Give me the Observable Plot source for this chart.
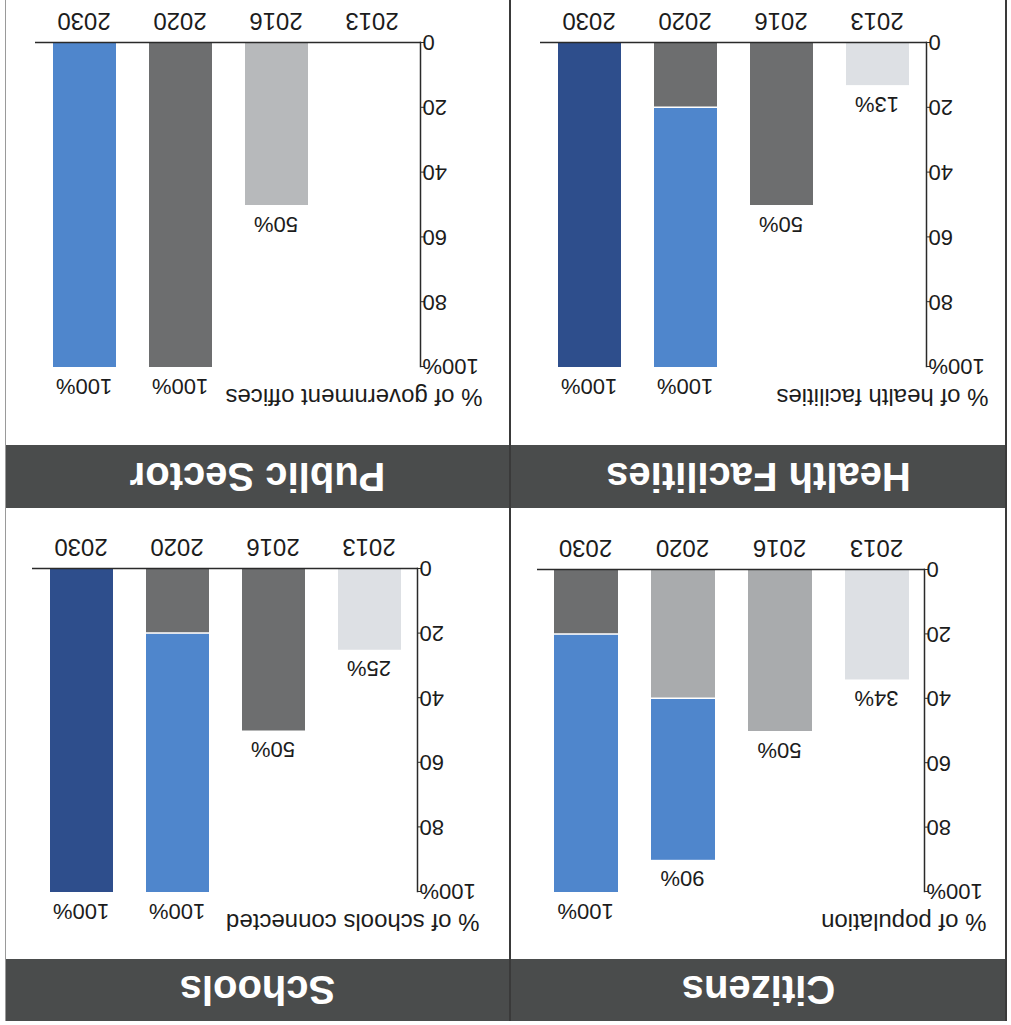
<!DOCTYPE html>
<html>
<head>
<meta charset="utf-8">
<script src="https://cdn.jsdelivr.net/npm/d3@7"></script>
<script src="https://cdn.jsdelivr.net/npm/@observablehq/plot@0.6"></script>
<style>
  html, body { margin: 0; padding: 0; background: #ffffff; }
  #root {
    position: absolute; left: 0; top: 0; width: 1011px; height: 1025px;
    background: #ffffff; transform: rotate(180deg); transform-origin: 50% 50%;
    font-family: "Liberation Sans", Arial, sans-serif; overflow: hidden;
  }
  .header {
    position: absolute; background: #4a4c4c; color: #ffffff;
    font-family: "Liberation Sans", Arial, sans-serif; font-weight: bold;
    font-size: 40px; text-align: center;
  }
  .vline { position: absolute; width: 2px; background: #3a3a3a; }
  .chart { position: absolute; }
  .chart svg { overflow: visible; }
</style>
</head>
<body>
<div id="root"></div>
<script>
// ---------- data ----------
const years = ["2013", "2016", "2020", "2030"];
const panelTitles = ["Citizens", "Schools", "Health Facilities", "Public Sector"];
const axisTitles = ["% of population", "% of schools connected", "% of health facilities", "% of government offices"];
const yTicks = [0, 20, 40, 60, 80, 100];

const toneNames = ["pale", "mid", "light", "dark", "blue", "navy"];
const toneColors = ["#dde0e4", "#a9abad", "#b7b9bb", "#6d6e6f", "#4f86cc", "#2e4e8c"];

// Citizens
const citizensLower = [34, 50, 40, 20];
const citizensLowerTone = ["pale", "mid", "mid", "dark"];
const citizensUpper = [null, null, 90, 100];
const citizensUpperTone = [null, null, "blue", "blue"];
const citizensLabels = ["34%", "50%", "90%", "100%"];

// Schools
const schoolsLower = [25, 50, 20, 100];
const schoolsLowerTone = ["pale", "dark", "dark", "navy"];
const schoolsUpper = [null, null, 100, null];
const schoolsUpperTone = [null, null, "blue", null];
const schoolsLabels = ["25%", "50%", "100%", "100%"];

// Health Facilities
const healthLower = [13, 50, 20, 100];
const healthLowerTone = ["pale", "dark", "dark", "navy"];
const healthUpper = [null, null, 100, null];
const healthUpperTone = [null, null, "blue", null];
const healthLabels = ["13%", "50%", "100%", "100%"];

// Public Sector
const publicLower = [0, 50, 100, 100];
const publicLowerTone = [null, "light", "dark", "blue"];
const publicUpper = [null, null, null, null];
const publicUpperTone = [null, null, null, null];
const publicLabels = [null, "50%", "100%", "100%"];

// ---------- layout ----------
const root = document.getElementById("root");

function addDiv(cls, css, text) {
  const d = document.createElement("div");
  d.className = cls;
  Object.assign(d.style, css);
  if (text) d.textContent = text;
  root.appendChild(d);
  return d;
}

function buildChart(lower, lowerTone, upper, upperTone, labels, axisTitle, dims) {
  const segs = [];
  const tops = [];
  years.forEach((yr, i) => {
    if (lower[i] > 0) segs.push({year: yr, y1: 0, y2: lower[i], tone: lowerTone[i]});
    if (upper[i] != null) segs.push({year: yr, y1: lower[i], y2: upper[i], tone: upperTone[i]});
    if (labels[i] != null) tops.push({year: yr, y: Math.max(lower[i] || 0, upper[i] || 0), text: labels[i]});
  });
  return Plot.plot({
    width: dims.width,
    height: dims.height,
    marginLeft: dims.ml,
    marginRight: dims.mr,
    marginTop: dims.mt,
    marginBottom: dims.mb,
    style: {fontFamily: "Liberation Sans, Arial, sans-serif", color: "#1c1c1c", background: "transparent", overflow: "visible"},
    x: {domain: years, paddingInner: 0.34, paddingOuter: 0.17, align: 0.5},
    y: {domain: [0, 100]},
    color: {domain: toneNames, range: toneColors},
    marks: [
      Plot.barY(segs, {x: "year", y1: "y1", y2: "y2", fill: "tone"}),
      Plot.tickY(segs.filter(d => d.y1 > 0), {x: "year", y: "y1", stroke: "#ffffff", strokeWidth: 1.5}),
      Plot.ruleY([0], {stroke: "#2a2a2a", strokeWidth: 1.5}),
      Plot.frame({anchor: "left", stroke: "#2a2a2a", strokeWidth: 1.5}),
      Plot.axisY({ticks: yTicks, tickSize: 3, tickPadding: -1, tickFormat: d => d === 100 ? "100%" : String(d), fontSize: 22, label: null, stroke: "#2a2a2a"}),
      Plot.axisX({tickSize: 0, tickPadding: 12, fontSize: 24, label: null}),
      Plot.text(tops, {x: "year", y: "y", text: "text", dy: -12, lineAnchor: "bottom", fontSize: 22, fill: "#1c1c1c"}),
      Plot.text([axisTitle], {frameAnchor: "top-left", text: d => d, dx: -62, dy: -22, textAnchor: "start", lineAnchor: "bottom", fontSize: 24, fill: "#1c1c1c"})
    ]
  });
}

const panels = [
  {title: panelTitles[0], axis: axisTitles[0], lower: citizensLower, lowerTone: citizensLowerTone, upper: citizensUpper, upperTone: citizensUpperTone, labels: citizensLabels,
   left: 4, width: 497, headTop: 4, headH: 62, chartTop: 66, dims: {width: 497, height: 444, ml: 82, mr: 27, mt: 67, mb: 55}},
  {title: panelTitles[1], axis: axisTitles[1], lower: schoolsLower, lowerTone: schoolsLowerTone, upper: schoolsUpper, upperTone: schoolsUpperTone, labels: schoolsLabels,
   left: 501, width: 505, headTop: 4, headH: 62, chartTop: 66, dims: {width: 505, height: 444, ml: 92, mr: 27, mt: 67, mb: 54}},
  {title: panelTitles[2], axis: axisTitles[2], lower: healthLower, lowerTone: healthLowerTone, upper: healthUpper, upperTone: healthUpperTone, labels: healthLabels,
   left: 4, width: 497, headTop: 517, headH: 63, chartTop: 580, dims: {width: 497, height: 445, ml: 80, mr: 30, mt: 78, mb: 43}},
  {title: panelTitles[3], axis: axisTitles[3], lower: publicLower, lowerTone: publicLowerTone, upper: publicUpper, upperTone: publicUpperTone, labels: publicLabels,
   left: 501, width: 505, headTop: 517, headH: 63, chartTop: 580, dims: {width: 505, height: 445, ml: 89, mr: 30, mt: 78, mb: 43}}
];

panels.forEach(p => {
  addDiv("header", {left: p.left + "px", top: p.headTop + "px", width: p.width + "px", height: p.headH + "px", lineHeight: p.headH + "px"}, p.title);
  const holder = addDiv("chart", {left: p.left + "px", top: p.chartTop + "px", width: p.dims.width + "px", height: p.dims.height + "px"});
  holder.appendChild(buildChart(p.lower, p.lowerTone, p.upper, p.upperTone, p.labels, p.axis, p.dims));
});

// panel borders
addDiv("vline", {left: "4px", top: "4px", height: "1021px"});
addDiv("vline", {left: "500px", top: "4px", height: "1021px"});
addDiv("vline", {left: "1005px", top: "4px", height: "1021px", background: "#9a9a9a", width: "1px"});
</script>
</body>
</html>
